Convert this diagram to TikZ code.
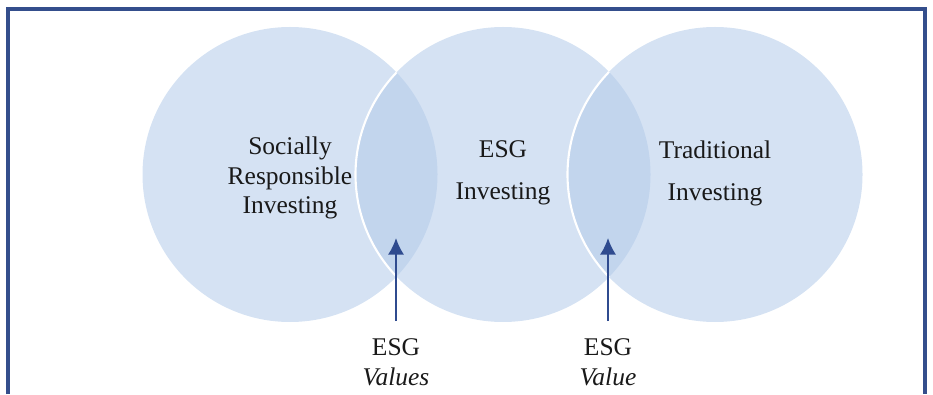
\documentclass[tikz,border=0pt]{standalone}
\usepackage{fontspec}
\setmainfont{Liberation Serif}
\usetikzlibrary{arrows.meta}

\definecolor{ringblue}{RGB}{178,202,233}
\definecolor{framblue}{RGB}{52,78,140}
\definecolor{arrowblue}{RGB}{47,75,143}

\tikzset{
    ring/.style={circle, minimum size=5.9cm, inner sep=0pt, fill=ringblue, fill opacity=0.55},
    rim/.style={white, line width=1.2pt},
    word/.style={align=center, font=\fontsize{14.5}{17}\selectfont, text=black!90},
    pointer/.style={arrowblue, line width=1.1pt, -{Latex[length=3.3mm,width=3.2mm]}}
}

\begin{document}
\begin{tikzpicture}
    \useasboundingbox (0,0) rectangle (18.66,7.88);
    \draw[framblue, line width=2.2pt] (0.16,0) -- (0.16,7.7) -- (18.5,7.7) -- (18.5,0);

    % the three circles
    \node[ring] (sri) at (5.8,4.39) {};
    \node[ring] (esg) at (10.06,4.39) {};
    \begin{scope}
        \clip (sri.center) circle[radius=2.95cm];
        \draw[rim] (esg.center) circle[radius=2.95cm];
    \end{scope}
    \node[ring] (trad) at (14.3,4.39) {};
    \begin{scope}
        \clip (esg.center) circle[radius=2.95cm];
        \draw[rim] (trad.center) circle[radius=2.95cm];
    \end{scope}

    \node[word] (sritext) at ([yshift=-0.07cm]sri.center) {Socially\\Responsible\\Investing};
    \node[word] (esgtext) at ([yshift=0.03cm]esg.center) {ESG\\[7pt]Investing};
    \node[word] (tradtext) at ([yshift=0.03cm]trad.center) {Traditional\\[7pt]Investing};

    % labels below the overlaps
    \node[word] (values) at (7.92,0.64) {ESG\\\textit{Values}};
    \node[word] (value) at (12.16,0.64) {ESG\\\textit{Value}};
    \coordinate (valuestip) at (7.92,3.12);
    \coordinate (valuetip) at (12.16,3.12);
    \draw[pointer] ([yshift=0.22cm]values.north) -- (valuestip);
    \draw[pointer] ([yshift=0.22cm]value.north) -- (valuetip);
\end{tikzpicture}
\end{document}
